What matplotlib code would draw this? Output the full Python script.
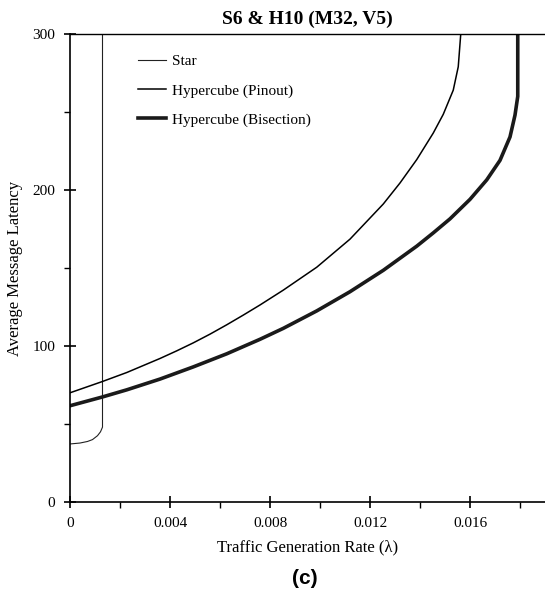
import matplotlib.pyplot as plt
from matplotlib.ticker import MultipleLocator, FixedLocator

plt.rcParams["font.family"] = ["Liberation Serif", "DejaVu Serif"]

# values
star_x = [0, 0.0004, 0.0007, 0.0009, 0.0011, 0.00122, 0.0013, 0.0013]
star_y = [37.2, 37.8, 38.8, 40.0, 42.5, 45.0, 48.0, 300]

pin_x = [0, 0.00129, 0.00227, 0.0036, 0.00427, 0.00493, 0.0056, 0.00627,
         0.00693, 0.0076, 0.00853, 0.00987, 0.0112, 0.01253, 0.0132,
         0.01387, 0.01453, 0.01493, 0.01533, 0.01553, 0.01563]
pin_y = [70, 77.2, 83.0, 92.0, 96.9, 102.0, 107.6, 113.6,
         119.8, 126.3, 135.8, 150.5, 168.5, 191.0, 204.5,
         219.5, 236.5, 248.5, 264.0, 279.0, 300]

bis_x = [0, 0.00129, 0.00227, 0.0036, 0.00493, 0.00627, 0.0076, 0.00853,
         0.00987, 0.0112, 0.01253, 0.01387, 0.01453, 0.0152, 0.016,
         0.01667, 0.0172, 0.0176, 0.0178, 0.01791, 0.01791]
bis_y = [61.7, 67.3, 71.9, 78.8, 86.6, 95.0, 104.3, 111.3,
         122.5, 134.8, 148.5, 164.0, 172.5, 181.5, 194.0,
         206.5, 219.0, 234.0, 248.0, 260.0, 300]

x_ticks = [0, 0.004, 0.008, 0.012, 0.016]
x_labels = ["0", "0.004", "0.008", "0.012", "0.016"]
y_ticks = [0, 100, 200, 300]

fig = plt.figure(figsize=(5.45, 6.04), dpi=100)
ax = fig.add_axes([70 / 545, 1 - 502 / 604, 475 / 545, 468 / 604])

ax.plot(star_x, star_y, color="#222222", lw=0.8, label="Star",
        solid_joinstyle="round")
ax.plot(pin_x, pin_y, color="black", lw=1.1, label="Hypercube (Pinout)",
        solid_joinstyle="round")
ax.plot(bis_x, bis_y, color="#1a1a1a", lw=2.6, label="Hypercube (Bisection)",
        solid_joinstyle="round")

ax.set_xlim(0, 0.019)
ax.set_ylim(0, 300)
ax.xaxis.set_major_locator(FixedLocator(x_ticks))
ax.set_xticklabels(x_labels)
ax.xaxis.set_minor_locator(MultipleLocator(0.002))
ax.yaxis.set_major_locator(FixedLocator(y_ticks))
ax.yaxis.set_minor_locator(MultipleLocator(50))
ax.tick_params(which="major", direction="inout", length=9, width=1.2,
               labelsize=11, pad=6)
ax.tick_params(which="minor", direction="out", length=4, width=1)
ax.spines["right"].set_visible(False)
for s in ["left", "bottom"]:
    ax.spines[s].set_linewidth(1.2)
ax.spines["top"].set_linewidth(1.0)

ax.set_xlabel("Traffic Generation Rate (λ)", fontsize=12, labelpad=7)
ax.set_ylabel("Average Message Latency", fontsize=12, labelpad=7)
ax.set_title("S6 & H10 (M32, V5)", fontsize=14, fontweight="bold", pad=7)

ax.legend(loc="upper left", bbox_to_anchor=(0.127, 0.972), frameon=False,
          fontsize=11, handlelength=1.85, handletextpad=0.35,
          labelspacing=1.0, borderpad=0)

fig.text(0.56, 0.042, "(c)", fontsize=15, fontweight="bold",
         family="Liberation Sans", ha="center", va="center")

fig.savefig("out.png", dpi=100)
